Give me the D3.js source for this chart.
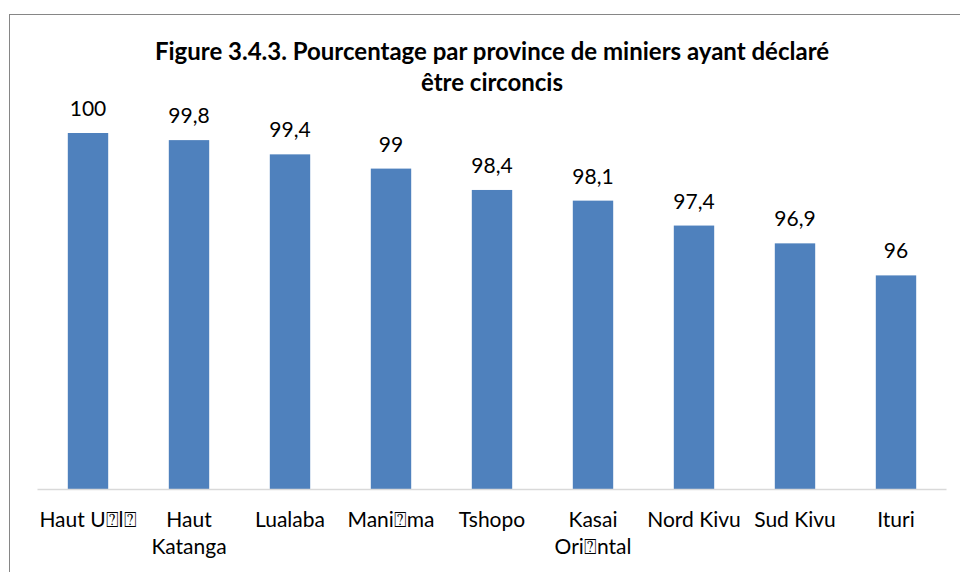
<!DOCTYPE html>
<html>
<head>
<meta charset="utf-8">
<script src="https://cdnjs.cloudflare.com/ajax/libs/d3/7.8.5/d3.min.js"></script>
<style>
  body { margin: 0; background: #fff; }
  text { font-family: Lato, "Open Sans", sans-serif; fill: #000; }
</style>
</head>
<body>
<div id="chart"></div>
<script>
"use strict";

// data (missing glyphs kept as boxes, as in the source)
var provinces = ["Haut U\u2370l\u2370", "Haut Katanga", "Lualaba", "Mani\u2370ma", "Tshopo",
                 "Kasai Ori\u2370ntal", "Nord Kivu", "Sud Kivu", "Ituri"];
var labelLines = [["Haut U\u2370l\u2370"], ["Haut", "Katanga"], ["Lualaba"], ["Mani\u2370ma"], ["Tshopo"],
                  ["Kasai", "Ori\u2370ntal"], ["Nord Kivu"], ["Sud Kivu"], ["Ituri"]];
var values = [100, 99.8, 99.4, 99, 98.4, 98.1, 97.4, 96.9, 96];
var valueLabels = ["100", "99,8", "99,4", "99", "98,4", "98,1", "97,4", "96,9", "96"];
var titleLines = ["Figure 3.4.3. Pourcentage par province de miniers ayant déclaré", "être circoncis"];
var yDomain = [90, 100];

var width = 960,
    height = 572;

var svg = d3.select("#chart")
            .append("svg")
            .attr("width", width)
            .attr("height", height)

// chart frame (right and bottom edges run off the page)
svg.append("rect")
   .attr("x", 9.5)
   .attr("y", 14.5)
   .attr("width", 980)
   .attr("height", 600)
   .attr("fill", "none")
   .attr("stroke", "#868686")
   .attr("stroke-width", 1)

var x = d3.scaleBand()
          .domain(provinces)
          .range([37.5, 946.5])
          .paddingInner(0.6)
          .paddingOuter(0.3)

var y = d3.scaleLinear()
          .domain(yDomain)
          .range([489, 133])

var title = svg.append("text")
               .attr("text-anchor", "middle")
               .style("font-weight", "bold")
               .style("font-size", "24px")
title.selectAll("tspan")
     .data(titleLines)
     .enter()
     .append("tspan")
     .attr("x", 492)
     .attr("y", function(d, i) { return 60 + i * 31 })
     .text(function(d) { return d })

svg.selectAll(".bar")
   .data(values)
   .enter()
   .append("rect")
   .attr("class", "bar")
   .attr("x", function(d, i) { return x(provinces[i]) })
   .attr("y", function(d) { return y(d) })
   .attr("width", x.bandwidth())
   .attr("height", function(d) { return y(yDomain[0]) - y(d) })
   .attr("fill", "#4f81bd")

// category axis line
svg.append("line")
   .attr("x1", x.range()[0])
   .attr("x2", x.range()[1])
   .attr("y1", y(yDomain[0]) + 0.5)
   .attr("y2", y(yDomain[0]) + 0.5)
   .attr("stroke", "#d9d9d9")
   .attr("stroke-width", 1.5)

svg.selectAll(".value")
   .data(values)
   .enter()
   .append("text")
   .attr("class", "value")
   .attr("x", function(d, i) { return x(provinces[i]) + x.bandwidth() / 2 })
   .attr("y", function(d) { return y(d) - 17 })
   .attr("text-anchor", "middle")
   .style("font-size", "21px")
   .text(function(d, i) { return valueLabels[i] })

var cats = svg.selectAll(".cat")
   .data(labelLines)
   .enter()
   .append("text")
   .attr("class", "cat")
   .attr("text-anchor", "middle")
   .style("font-size", "21px")
cats.each(function(lines, i) {
  d3.select(this).selectAll("tspan")
    .data(lines)
    .enter()
    .append("tspan")
    .attr("x", x(provinces[i]) + x.bandwidth() / 2)
    .attr("y", function(d, j) { return 527 + j * 27 })
    .text(function(d) { return d })
})
</script>
</body>
</html>
